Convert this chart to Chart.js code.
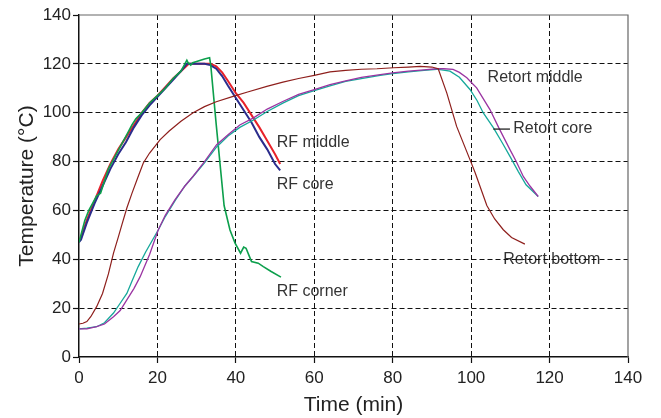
<!DOCTYPE html>
<html>
<head>
<meta charset="utf-8">
<script src="https://cdn.jsdelivr.net/npm/chart.js@4/dist/chart.umd.min.js"></script>
<style>
html,body{margin:0;padding:0;background:#fff;}
#wrap{width:661px;height:418px;position:relative;}
</style>
</head>
<body>
<div id="wrap"><canvas id="c" width="661" height="418"></canvas></div>
<script>
// ---- data ----
const xTicks = [0, 20, 40, 60, 80, 100, 120, 140];
const yTicks = [0, 20, 40, 60, 80, 100, 120, 140];

const rfCoreT = [0, 0.5, 2, 4, 6, 8, 10, 12, 14, 16, 18, 20, 22, 24, 26, 27.5, 30, 32, 33.5, 35, 36.5, 38, 40, 42, 44, 46, 48, 50, 51.3];
const rfCoreY = [47, 48, 55, 63, 70, 77, 83, 88, 94, 99, 103, 106.5, 110, 113.5, 117, 120, 120, 120, 119.5, 118, 115, 111, 106, 101, 96, 90, 85, 79, 76.4];

const rfMiddleT = [0, 0.5, 2, 4, 6, 8, 10, 12, 14, 16, 18, 20, 22, 24, 26, 28, 30, 32, 33.5, 35, 36.5, 38, 40, 42, 44, 46, 48, 50, 51.3];
const rfMiddleY = [47.5, 49, 56, 64, 72, 79, 85, 90, 95, 100, 104, 107, 110.5, 114, 117, 120, 120, 120, 120, 119, 116.5, 113, 108, 104, 99, 94, 88.5, 83, 79];

const rfCornerT = [0, 0.5, 1.5, 2.5, 3.5, 4.5, 5.5, 6.5, 7.5, 8.5, 9.5, 10.5, 11.5, 12.5, 13.5, 14.5, 16, 18, 20, 22, 24, 26, 27.5, 27.8, 28.5, 29, 30, 31, 32, 33.3, 33.6, 35, 37, 38.5, 39.8, 41.2, 42, 42.6, 43.5, 44, 45.7, 47, 49, 51.5];
const rfCornerY = [47, 50, 56, 60, 63, 66, 67, 72, 77, 80, 83, 86, 89, 92, 95, 97.5, 100, 104, 107, 110, 114, 117, 121.5, 120.5, 119.5, 120.5, 121, 121.5, 122, 122.5, 119.5, 95, 62, 52, 46.6, 42.5, 45, 44.5, 41, 39.1, 38.4, 37, 35, 32.7];

const retBottomT = [0, 1, 2, 3, 4.5, 6, 7.5, 8.8, 10, 11, 12.2, 13.5, 15, 16.4, 18, 20.7, 23, 26, 29.1, 32, 35, 39.3, 43, 47.9, 52, 56, 60, 64, 68, 72, 76, 80.2, 84, 87, 90, 91.6, 93.8, 96.3, 99.7, 101, 104, 106, 108.2, 110.3, 113.7];
const retBottomY = [13.5, 13.8, 14.5, 16.5, 20.6, 26, 34, 42.5, 49, 54.5, 61, 67, 73.5, 79.4, 83.5, 89, 92.5, 96.5, 100, 102.5, 104.5, 106.7, 108.5, 110.8, 112.5, 114, 115.3, 116.7, 117.3, 117.8, 118, 118.4, 118.7, 119, 118.7, 118, 108, 94.4, 80.8, 75.5, 62, 56.5, 52.1, 48.9, 46.2];

const retMiddleT = [0, 2, 4.5, 6.5, 8.8, 10.5, 12.2, 14, 15.6, 18, 20.2, 22, 24.5, 27, 29.1, 32, 35.1, 38, 41, 44.5, 48, 52.1, 56, 60, 64, 68, 72, 76.8, 80, 84, 88, 91.2, 93, 95.4, 97, 98.9, 100, 101.4, 103, 104.8, 107, 109.9, 111.5, 113.3, 115, 117.1];
const retMiddleY = [11.5, 11.5, 12.4, 13.5, 16.5, 19, 23.4, 28, 32.9, 42, 52, 58, 64.4, 70, 74, 80, 86.9, 91, 95, 97.9, 101.5, 104.7, 107.5, 109.5, 111.5, 113, 114.5, 115.6, 116.3, 117, 117.5, 118, 118, 117.7, 116.5, 114.3, 112.5, 110.2, 106, 101.3, 94, 84.9, 80, 73.9, 70, 65.7];

const retCoreT = [0, 2, 4.5, 6.5, 8.8, 10.5, 12.2, 13.5, 15.1, 17, 20.2, 22, 24.5, 27, 29.1, 32, 35.1, 38, 41, 44.5, 48, 52.1, 56, 60, 64, 68, 72, 76.8, 80, 84, 88, 91.2, 92.5, 94.6, 97, 99.7, 101.5, 103.1, 105.7, 108, 109.9, 112, 114, 117.1];
const retCoreY = [11.5, 11.8, 12.4, 14, 18, 22, 26, 31, 37, 43, 52, 57.5, 64, 70, 73.9, 79.5, 86, 90.5, 94, 97, 100.5, 104, 107, 109, 111, 112.8, 114, 115.3, 116, 116.7, 117.3, 117.8, 117.5, 117, 114.5, 109.5, 105, 99.9, 93.8, 87.5, 82.1, 76, 70.5, 65.7];

const seriesNames = ['RF core', 'RF middle', 'RF corner', 'Retort bottom', 'Retort middle', 'Retort core'];

// annotation labels (data coordinates)
const labelTexts = ['RF middle', 'RF core', 'RF corner', 'Retort middle', 'Retort core', 'Retort bottom'];
const labelX = [50.4, 50.4, 50.4, 104.2, 110.75, 108.2];
const labelY = [87.6, 70.5, 26.8, 114.2, 93.3, 39.8];
const leaderX = [105.65, 109.9];
const leaderY = [93.3, 93.3];

// ---- chart ----
function pts(t, y) { return t.map((v, i) => ({x: v, y: y[i]})); }

const styles = [
  {c: '#2b2c8c', w: 2},
  {c: '#e8222a', w: 2},
  {c: '#0c9f4c', w: 1.6},
  {c: '#8e1f1c', w: 1.2},
  {c: '#9a34a2', w: 1.3},
  {c: '#16a89b', w: 1.3}
];
const seriesData = [
  pts(rfCoreT, rfCoreY), pts(rfMiddleT, rfMiddleY), pts(rfCornerT, rfCornerY),
  pts(retBottomT, retBottomY), pts(retMiddleT, retMiddleY), pts(retCoreT, retCoreY)
];
const order = [3, 4, 5, 2, 0, 1];
const datasets = order.map(i => ({
  label: seriesNames[i],
  data: seriesData[i],
  showLine: true,
  borderColor: styles[i].c,
  backgroundColor: styles[i].c,
  borderWidth: styles[i].w,
  pointRadius: 0,
  tension: 0,
  fill: false
}));

const labelPlugin = {
  id: 'labels',
  beforeDraw(chart) {
    const ctx = chart.ctx;
    const xs = chart.scales.x, ys = chart.scales.y;
    ctx.save();
    ctx.font = '16px "Liberation Sans", Arial, sans-serif';
    ctx.fillStyle = '#333';
    ctx.textAlign = 'left';
    ctx.textBaseline = 'middle';
    labelTexts.forEach((t, i) => {
      ctx.fillText(t, xs.getPixelForValue(labelX[i]), ys.getPixelForValue(labelY[i]));
    });
    ctx.restore();
  },
  afterDraw(chart) {
    const ctx = chart.ctx;
    const xs = chart.scales.x, ys = chart.scales.y;
    const a = chart.chartArea;
    ctx.save();
    ctx.setLineDash([]);
    // leader line
    ctx.strokeStyle = '#222';
    ctx.lineWidth = 1.3;
    ctx.beginPath();
    ctx.moveTo(xs.getPixelForValue(leaderX[0]), ys.getPixelForValue(leaderY[0]));
    ctx.lineTo(xs.getPixelForValue(leaderX[1]), ys.getPixelForValue(leaderY[1]));
    ctx.stroke();
    // top & right border
    ctx.strokeStyle = '#666';
    ctx.lineWidth = 1.2;
    ctx.beginPath();
    ctx.moveTo(a.left, a.top);
    ctx.lineTo(a.right, a.top);
    ctx.lineTo(a.right, a.bottom);
    ctx.stroke();
    ctx.restore();
  }
};

const tickFont = {family: '"Liberation Sans", Arial, sans-serif', size: 17};
const titleFont = {family: '"Liberation Sans", Arial, sans-serif', size: 21};

new Chart(document.getElementById('c'), {
  type: 'scatter',
  data: {datasets},
  options: {
    responsive: false,
    animation: false,
    events: [],
    layout: {padding: {left: 0, right: 33, top: 15, bottom: 0}},
    plugins: {legend: {display: false}, tooltip: {enabled: false}},
    scales: {
      x: {
        type: 'linear', min: 0, max: 140,
        afterBuildTicks(s) { s.ticks = xTicks.map(v => ({value: v})); },
        afterFit(s) { s.height = 61; },
        ticks: {font: tickFont, color: '#222', padding: 5, maxRotation: 0},
        grid: {
          color: c => (c.tick && (c.tick.value === 0 || c.tick.value === 140)) ? 'rgba(0,0,0,0)' : '#111',
          lineWidth: 1, drawTicks: true, tickLength: 6,
          tickColor: '#111', tickBorderDash: [], tickWidth: 1.2
        },
        border: {display: true, color: '#111', width: 1.5, dash: [5, 3]},
        title: {display: true, text: 'Time (min)', font: titleFont, color: '#222', padding: {top: 0, bottom: 0}}
      },
      y: {
        type: 'linear', min: 0, max: 140,
        afterBuildTicks(s) { s.ticks = yTicks.map(v => ({value: v})); },
        afterFit(s) { s.width = 79; },
        ticks: {font: tickFont, color: '#222', padding: 2},
        grid: {
          color: c => (c.tick && (c.tick.value === 0 || c.tick.value === 140)) ? 'rgba(0,0,0,0)' : '#111',
          lineWidth: 1, drawTicks: true, tickLength: 6,
          tickColor: '#111', tickBorderDash: [], tickWidth: 1.2
        },
        border: {display: true, color: '#111', width: 1.5, dash: [5, 3]},
        title: {display: true, text: 'Temperature (°C)', font: titleFont, color: '#222', padding: {top: 15, bottom: 0}}
      }
    }
  },
  plugins: [labelPlugin]
});
</script>
</body>
</html>
